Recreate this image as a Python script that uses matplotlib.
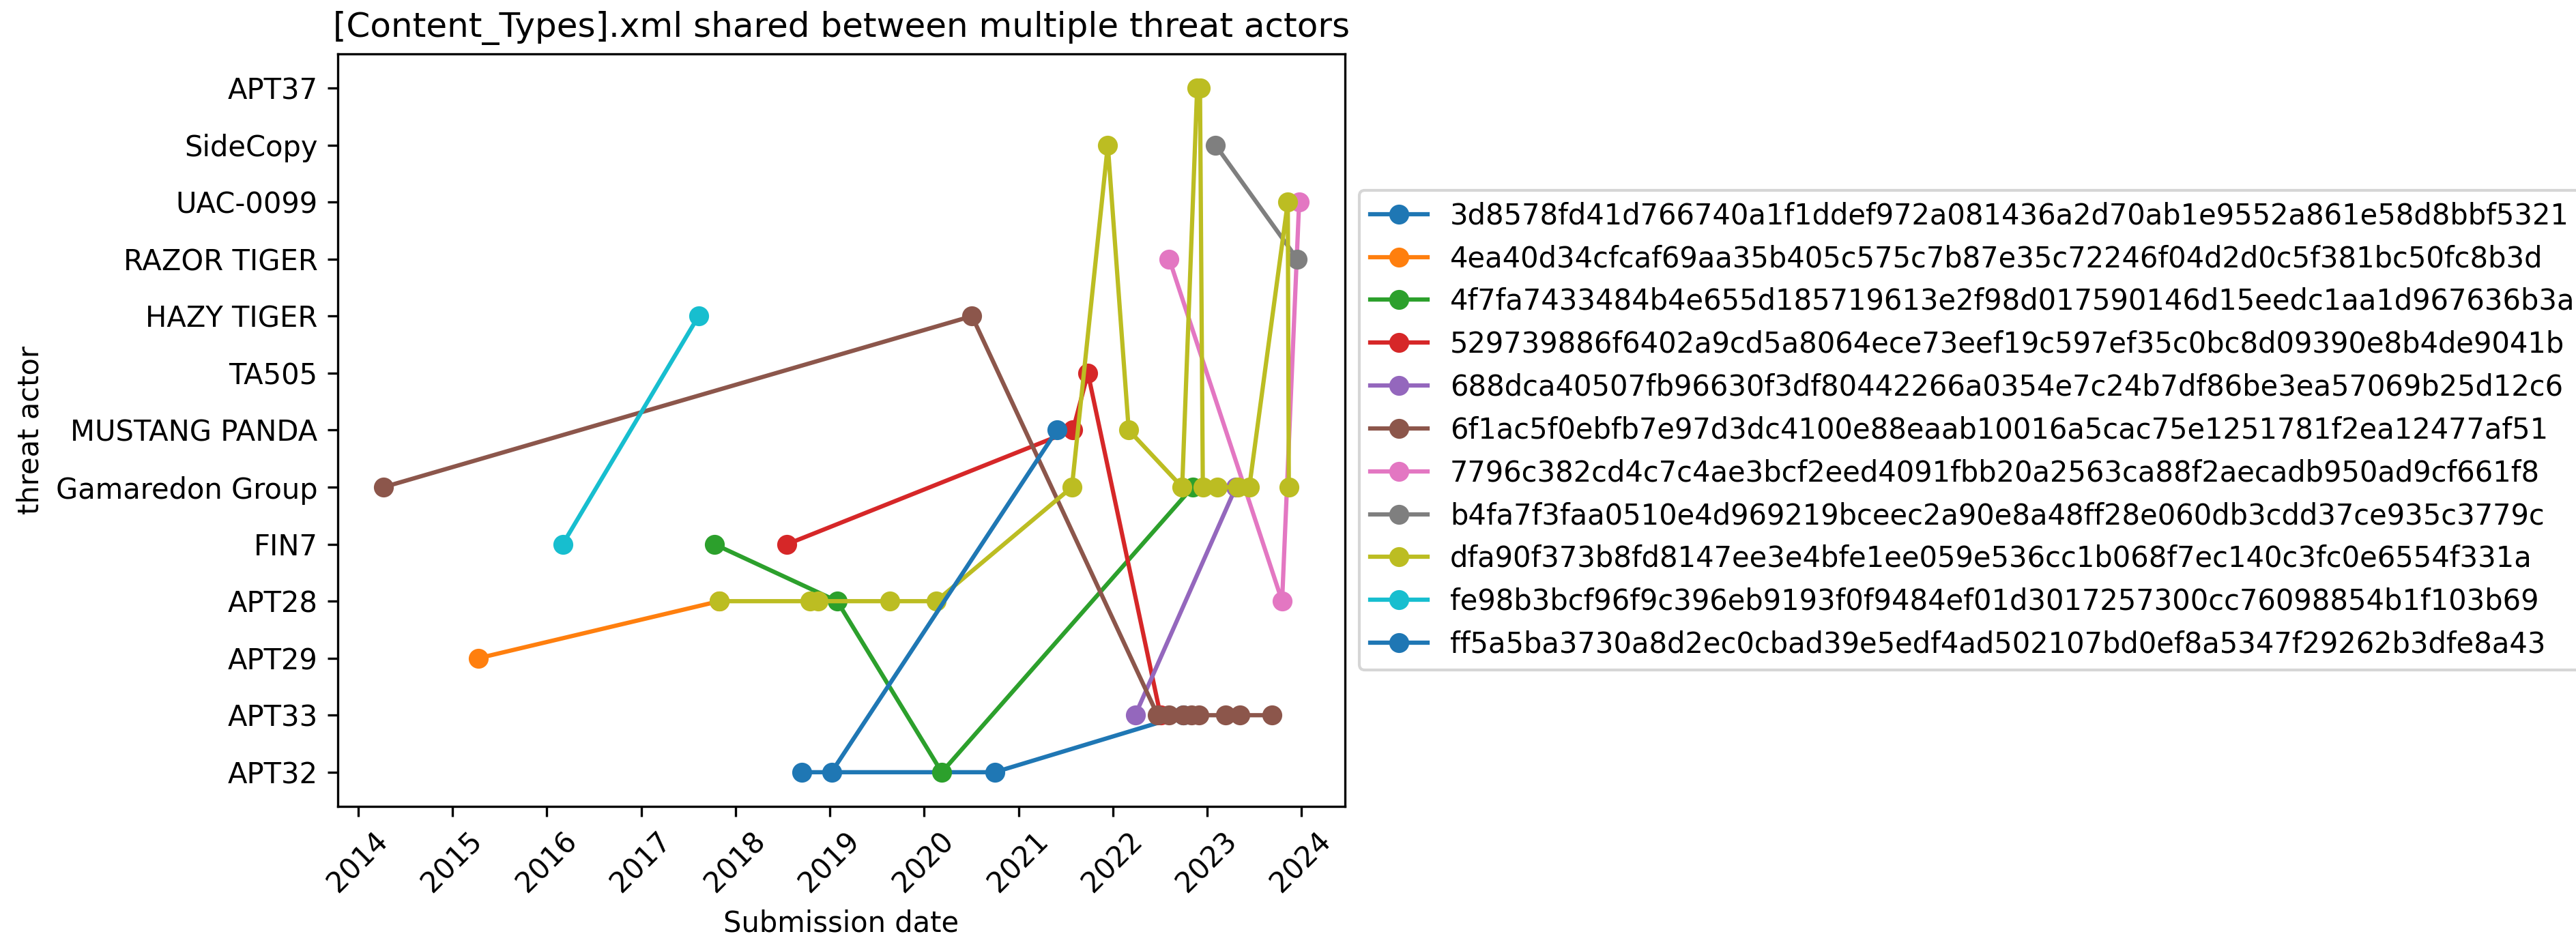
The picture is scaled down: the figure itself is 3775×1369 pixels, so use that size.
import pandas as pd
import matplotlib.pyplot as plt

# sha256 of each sample sharing the file
hashes = [
    '3d8578fd41d766740a1f1ddef972a081436a2d70ab1e9552a861e58d8bbf5321',
    '4ea40d34cfcaf69aa35b405c575c7b87e35c72246f04d2d0c5f381bc50fc8b3d',
    '4f7fa7433484b4e655d185719613e2f98d017590146d15eedc1aa1d967636b3a',
    '529739886f6402a9cd5a8064ece73eef19c597ef35c0bc8d09390e8b4de9041b',
    '688dca40507fb96630f3df80442266a0354e7c24b7df86be3ea57069b25d12c6',
    '6f1ac5f0ebfb7e97d3dc4100e88eaab10016a5cac75e1251781f2ea12477af51',
    '7796c382cd4c7c4ae3bcf2eed4091fbb20a2563ca88f2aecadb950ad9cf661f8',
    'b4fa7f3faa0510e4d969219bceec2a90e8a48ff28e060db3cdd37ce935c3779c',
    'dfa90f373b8fd8147ee3e4bfe1ee059e536cc1b068f7ec140c3fc0e6554f331a',
    'fe98b3bcf96f9c396eb9193f0f9484ef01d3017257300cc76098854b1f103b69',
    'ff5a5ba3730a8d2ec0cbad39e5edf4ad502107bd0ef8a5347f29262b3dfe8a43',
]

# submission dates per hash
dates = [
    ['2018-09-16', '2020-10-01', '2022-10-01'],
    ['2015-04-12', '2017-10-30'],
    ['2017-10-11', '2019-01-30', '2020-03-10', '2022-11-06'],
    ['2018-07-20', '2021-07-31', '2021-09-27', '2022-07-05'],
    ['2022-03-29', '2023-04-23'],
    ['2014-04-09', '2020-07-05', '2022-06-24', '2022-08-08', '2022-10-01',
     '2022-11-03', '2022-12-02', '2023-03-14', '2023-05-08', '2023-09-09'],
    ['2022-08-08', '2023-10-19', '2023-12-24'],
    ['2023-02-03', '2023-12-17'],
    ['2017-10-30', '2018-10-16', '2018-11-18', '2019-08-22', '2020-02-17',
     '2021-07-27', '2021-12-13', '2022-03-04', '2022-09-27', '2022-11-24',
     '2022-12-05', '2022-12-16', '2023-02-10', '2023-05-01', '2023-06-14',
     '2023-11-10', '2023-11-14'],
    ['2016-03-03', '2017-08-11'],
    ['2019-01-08', '2021-05-30'],
]

# threat actor attributed at each submission
actors = [
    ['APT32', 'APT32', 'APT33'],
    ['APT29', 'APT28'],
    ['FIN7', 'APT28', 'APT32', 'Gamaredon Group'],
    ['FIN7', 'MUSTANG PANDA', 'TA505', 'APT33'],
    ['APT33', 'Gamaredon Group'],
    ['Gamaredon Group', 'HAZY TIGER', 'APT33', 'APT33', 'APT33',
     'APT33', 'APT33', 'APT33', 'APT33', 'APT33'],
    ['RAZOR TIGER', 'APT28', 'UAC-0099'],
    ['SideCopy', 'RAZOR TIGER'],
    ['APT28', 'APT28', 'APT28', 'APT28', 'APT28',
     'Gamaredon Group', 'SideCopy', 'MUSTANG PANDA', 'Gamaredon Group', 'APT37',
     'APT37', 'Gamaredon Group', 'Gamaredon Group', 'Gamaredon Group', 'Gamaredon Group',
     'UAC-0099', 'Gamaredon Group'],
    ['FIN7', 'HAZY TIGER'],
    ['APT32', 'MUSTANG PANDA'],
]

fig = plt.figure(figsize=(3775 / 300, 1369 / 300), dpi=300)
ax = fig.add_subplot(111)
fig.subplots_adjust(left=0.1311, right=0.5221, top=0.9423, bottom=0.1366)

for h, d, a in zip(hashes, dates, actors):
    ax.plot(pd.to_datetime(d), a, marker='o', label=h)

ax.set_title('[Content_Types].xml shared between multiple threat actors')
ax.set_xlabel('Submission date')
ax.set_ylabel('threat actor')
plt.setp(ax.get_xticklabels(), rotation=45)
ax.legend(loc='center left', bbox_to_anchor=(1, 0.5))

fig.savefig('out.png', dpi=300)
